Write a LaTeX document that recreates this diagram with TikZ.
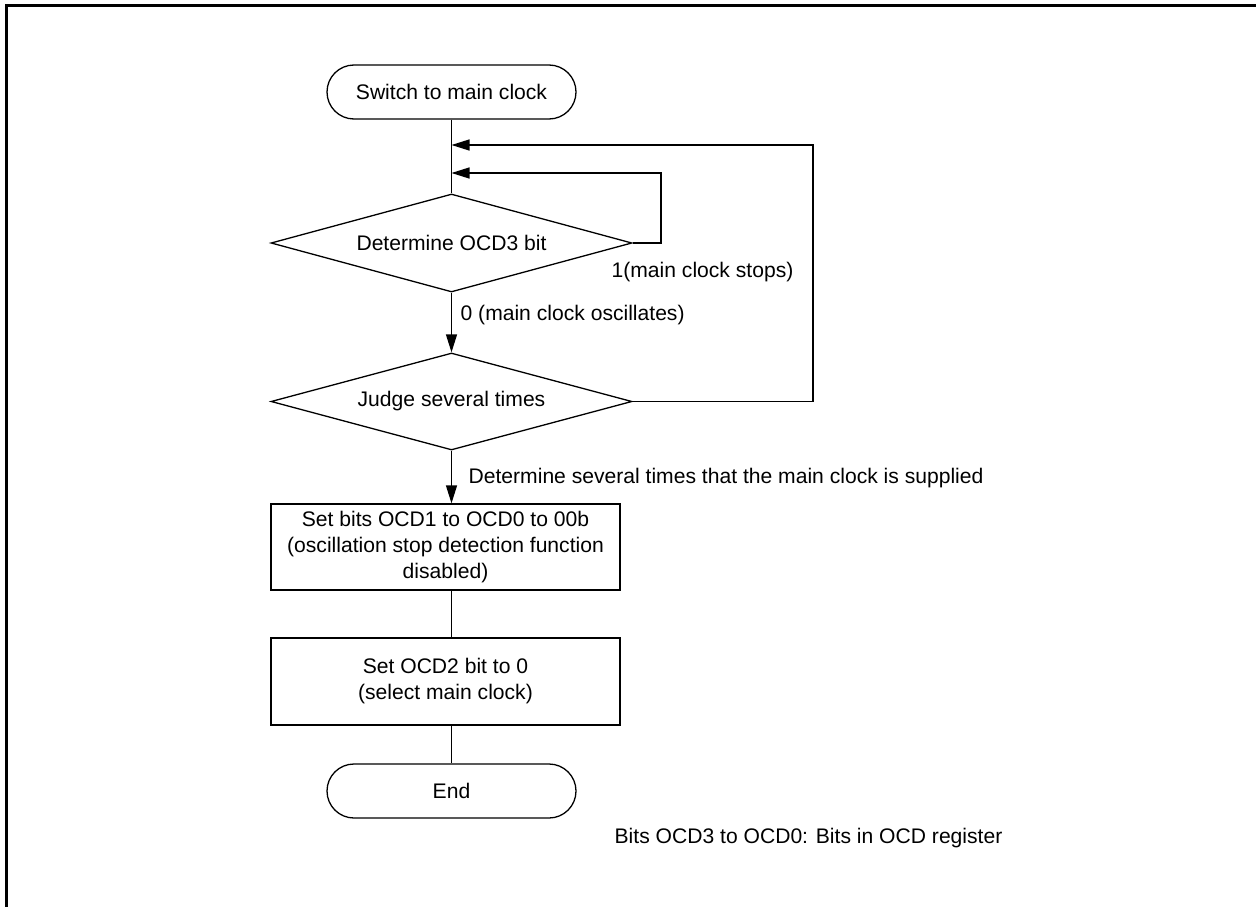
\documentclass[tikz,border=0pt]{standalone}
\usepackage{fontspec}
\setmainfont{Liberation Sans}
\usetikzlibrary{shapes.geometric,arrows.meta}
\begin{document}
\begin{tikzpicture}[x=1pt,y=-1pt,
  font=\fontsize{21.1}{26}\selectfont,
  line width=1.3pt,
  term/.style={draw, rectangle, rounded corners=27pt, minimum width=249pt, minimum height=54pt, inner sep=0pt},
  dec/.style={draw, diamond, aspect=3.7, minimum width=361pt, minimum height=98pt, inner sep=0pt},
  proc/.style={draw, rectangle, minimum width=349pt, inner sep=0pt, align=center},
  lbl/.style={anchor=west, inner sep=0pt},
  arr/.style={-{Triangle[length=18pt,width=11pt]}}
]
\useasboundingbox (0,0) rectangle (1256,907);
\draw[line width=3pt] (6,907) -- (6,5.5) -- (1256,5.5);

\node[term] (start) at (451.5,92) {Switch to main clock};
\node[dec] (d1) at (451.5,243) {Determine OCD3 bit};
\node[dec, minimum height=97pt] (d2) at (451.5,401.5) {Judge several times};
\node[proc, minimum height=86pt] (p1) at (445.5,547) {Set bits OCD1 to OCD0 to 00b\\(oscillation stop detection function\\disabled)};
\node[proc, minimum height=87pt] (p2) at (445.5,681.5) {Set OCD2 bit to 0\\(select main clock)};
\node[term] (end) at (451.5,791) {End};

\coordinate (j1) at (451.5,145);
\coordinate (j2) at (451.5,173);
\coordinate (r1) at (661,173);
\coordinate (r2) at (813,145);

\draw (start.south) -- (d1.north);
\draw[arr] (d1.east) -| (r1) -- (j2);
\draw[arr] (d2.east) -| (r2) -- (j1);
\draw[arr] (d1.south) -- (d2.north);
\draw[arr] (d2.south) -- (d2.south |- p1.north);
\draw (p1.south -| d2.south) -- (p2.north -| d2.south);
\draw (p2.south -| end.north) -- (end.north);

\node[lbl] (l1) at (611,272) {1(main clock stops)};
\node[lbl] (l0) at (460,315) {0 (main clock oscillates)};
\node[lbl] (l2) at (468,478) {Determine several times that the main clock is supplied};
\node[lbl] (note) at (614,838) {Bits OCD3 to OCD0: Bits in OCD register};
\end{tikzpicture}
\end{document}
